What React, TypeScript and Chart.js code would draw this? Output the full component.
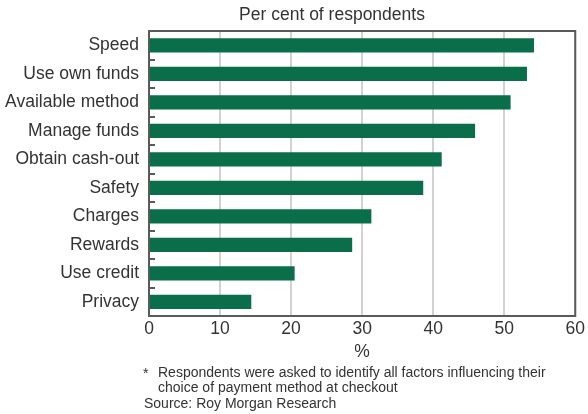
import React, { useEffect, useRef } from "react";
import { Chart, registerables } from "chart.js";

Chart.register(...registerables);

const categories = [
  "Speed",
  "Use own funds",
  "Available method",
  "Manage funds",
  "Obtain cash-out",
  "Safety",
  "Charges",
  "Rewards",
  "Use credit",
  "Privacy",
];
const values = [54.2, 53.2, 50.9, 45.9, 41.2, 38.6, 31.3, 28.6, 20.5, 14.4];
const xTicks = [0, 10, 20, 30, 40, 50, 60];
const titleText = "Per cent of respondents";
const axisTitle = "%";
const footnoteLines = [
  "Respondents were asked to identify all factors influencing their",
  "choice of payment method at checkout",
];
const sourceText = "Source: Roy Morgan Research";

const FONT = "'Liberation Sans', Arial, Helvetica, sans-serif";
const TEXT = "#333333";

const decorPlugin = {
  id: "decor",
  afterDraw(chart: any) {
    const ctx = chart.ctx;
    const a = chart.chartArea;
    const y = chart.scales.y;
    ctx.save();
    // frame
    ctx.strokeStyle = "#5a5a5a";
    ctx.lineWidth = 2;
    ctx.strokeRect(a.left, a.top, a.right - a.left, a.bottom - a.top);
    // inward ticks at category boundaries
    ctx.beginPath();
    for (let i = 0; i <= categories.length; i++) {
      const py = Math.round(y.getPixelForValue(i - 0.5));
      ctx.moveTo(a.left, py);
      ctx.lineTo(a.left + 6, py);
    }
    ctx.stroke();
    // title
    ctx.fillStyle = TEXT;
    ctx.font = `17.5px ${FONT}`;
    ctx.textAlign = "center";
    ctx.textBaseline = "middle";
    ctx.fillText(titleText, 332, 15);
    // axis title
    ctx.fillText(axisTitle, (a.left + a.right) / 2, 352);
    // footnotes
    ctx.font = `14px ${FONT}`;
    ctx.textAlign = "left";
    ctx.fillText("*", 143, 374);
    ctx.fillText(footnoteLines[0], 158, 373);
    ctx.fillText(footnoteLines[1], 158, 388.5);
    ctx.fillText(sourceText, 144, 404.5);
    ctx.restore();
  },
};

export default function App() {
  const ref = useRef<HTMLCanvasElement | null>(null);
  useEffect(() => {
    if (!ref.current) return;
    const chart = new Chart(ref.current, {
      type: "bar",
      data: {
        labels: categories,
        datasets: [
          {
            data: values,
            backgroundColor: "#0a6e4a",
            borderWidth: 0,
            barPercentage: 0.5,
            categoryPercentage: 1,
          },
        ],
      },
      options: {
        indexAxis: "y",
        responsive: false,
        animation: false,
        events: [],
        layout: { padding: { top: 31, right: 10, left: 0, bottom: 0 } },
        plugins: {
          legend: { display: false },
          tooltip: { enabled: false },
          title: { display: false },
        },
        scales: {
          x: {
            min: 0,
            max: 60,
            afterBuildTicks(scale: any) {
              scale.ticks = xTicks.map((v) => ({ value: v }));
            },
            afterFit(scale: any) {
              scale.height = 98;
            },
            grid: {
              color: "#d2d2d2",
              lineWidth: 2,
              drawTicks: false,
            },
            border: { display: false },
            ticks: {
              color: TEXT,
              font: { family: FONT, size: 17.5 },
              padding: 3,
              maxRotation: 0,
            },
          },
          y: {
            afterFit(scale: any) {
              scale.width = 149;
            },
            grid: { display: false, drawTicks: false },
            border: { display: false },
            ticks: {
              color: TEXT,
              font: { family: FONT, size: 17.5 },
              padding: 10,
            },
          },
        },
      },
      plugins: [decorPlugin],
    });
    return () => chart.destroy();
  }, []);
  return (
    <div style={{ position: "absolute", left: 0, top: 0, width: 588, height: 414, background: "#fff" }}>
      <canvas ref={ref} width={588} height={414} style={{ width: 588, height: 414 }} />
    </div>
  );
}
